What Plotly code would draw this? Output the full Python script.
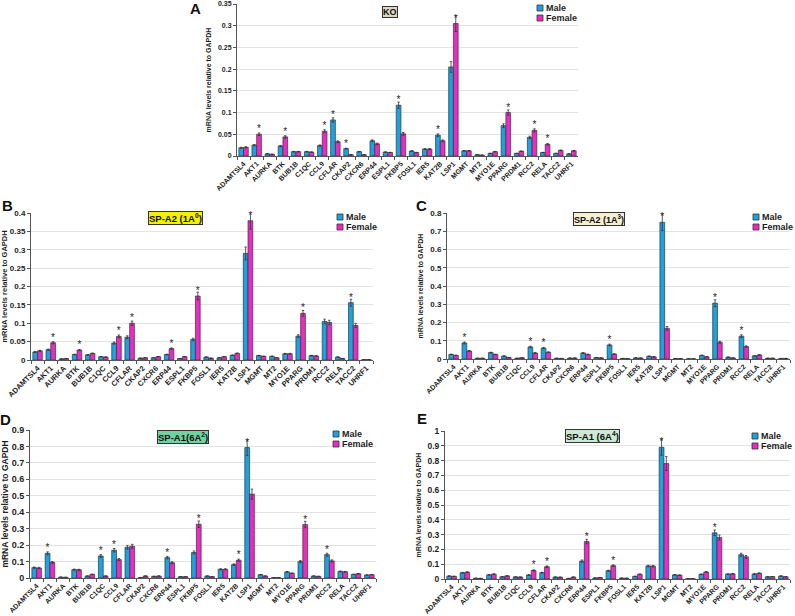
import plotly.graph_objects as go

genes = ["ADAMTSL4", "AKT1", "AURKA", "BTK", "BUB1B", "C1QC", "CCL9", "CFLAR", "CKAP2",
         "CXCR6", "ERP44", "ESPL1", "FKBP5", "FOSL1", "IER5", "KAT2B", "LSP1", "MGMT",
         "MT2", "MYO1E", "PPARG", "PRDM1", "RCC2", "RELA", "TACC2", "UHRF1"]

# Panel A: KO
ko_male = [0.019, 0.025, 0.005, 0.023, 0.010, 0.010, 0.024, 0.083, 0.017, 0.010, 0.035, 0.009, 0.117,
           0.0115, 0.016, 0.048, 0.205, 0.012, 0.003, 0.006, 0.070, 0.006, 0.043, 0.008, 0.006, 0.005]
ko_female = [0.020, 0.050, 0.004, 0.044, 0.010, 0.009, 0.057, 0.033, 0.003, 0.003, 0.028, 0.008, 0.051,
             0.008, 0.016, 0.035, 0.305, 0.012, 0.002, 0.010, 0.100, 0.011, 0.059, 0.027, 0.013, 0.012]
ko_sig_male = ["CFLAR", "CKAP2", "FKBP5", "KAT2B"]
ko_sig_female = ["AKT1", "BTK", "CCL9", "LSP1", "PPARG", "RCC2", "RELA"]

# Panel B: SP-A2 (1A0)
b_male = [0.022, 0.028, 0.003, 0.015, 0.014, 0.009, 0.046, 0.062, 0.005, 0.006, 0.015, 0.004, 0.056,
          0.008, 0.006, 0.013, 0.290, 0.012, 0.010, 0.017, 0.065, 0.012, 0.105, 0.008, 0.156, 0.001]
b_female = [0.025, 0.047, 0.004, 0.027, 0.018, 0.008, 0.064, 0.100, 0.006, 0.009, 0.031, 0.009, 0.174,
            0.005, 0.009, 0.018, 0.379, 0.010, 0.006, 0.017, 0.127, 0.011, 0.102, 0.004, 0.094, 0.001]
b_sig_male = ["TACC2"]
b_sig_female = ["AKT1", "BTK", "CCL9", "CFLAR", "ERP44", "FKBP5", "LSP1", "PPARG"]

# Panel C: SP-A2 (1A3)
c_male = [0.025, 0.088, 0.004, 0.035, 0.016, 0.004, 0.066, 0.060, 0.004, 0.005, 0.033, 0.008, 0.077,
          0.003, 0.006, 0.015, 0.749, 0.002, 0.001, 0.020, 0.306, 0.010, 0.125, 0.017, 0.004, 0.003]
c_female = [0.020, 0.044, 0.004, 0.025, 0.008, 0.007, 0.033, 0.037, 0.003, 0.005, 0.025, 0.006, 0.027,
            0.002, 0.005, 0.012, 0.168, 0.002, 0.001, 0.012, 0.092, 0.006, 0.068, 0.022, 0.004, 0.003]
c_sig_male = ["AKT1", "CCL9", "CFLAR", "FKBP5", "LSP1", "PPARG", "RCC2"]
c_sig_female = []

# Panel D: SP-A1 (6A2)
d_male = [0.063, 0.150, 0.005, 0.051, 0.012, 0.134, 0.169, 0.187, 0.003, 0.010, 0.124, 0.008, 0.155,
          0.012, 0.053, 0.081, 0.793, 0.020, 0.002, 0.037, 0.100, 0.012, 0.142, 0.040, 0.022, 0.018]
d_female = [0.061, 0.095, 0.004, 0.050, 0.022, 0.012, 0.112, 0.193, 0.012, 0.012, 0.093, 0.008, 0.327,
            0.008, 0.053, 0.108, 0.510, 0.012, 0.002, 0.029, 0.325, 0.010, 0.104, 0.038, 0.026, 0.020]
d_sig_male = ["AKT1", "C1QC", "CCL9", "ERP44", "LSP1", "RCC2"]
d_sig_female = ["FKBP5", "KAT2B", "PPARG"]

# Panel E: SP-A1 (6A4)
e_male = [0.020, 0.042, 0.005, 0.028, 0.015, 0.014, 0.027, 0.043, 0.013, 0.004, 0.121, 0.007, 0.056,
          0.006, 0.018, 0.088, 0.890, 0.028, 0.002, 0.032, 0.312, 0.033, 0.164, 0.034, 0.015, 0.020]
e_female = [0.018, 0.046, 0.004, 0.033, 0.021, 0.013, 0.058, 0.083, 0.012, 0.013, 0.253, 0.010, 0.090,
            0.005, 0.032, 0.087, 0.780, 0.026, 0.002, 0.047, 0.280, 0.035, 0.150, 0.039, 0.016, 0.015]
e_sig_male = ["LSP1", "PPARG"]
e_sig_female = ["CCL9", "CFLAR", "ERP44", "FKBP5"]

series_names = ["Male", "Female"]

W, H = 795, 616
MALE_C = "#1aa3df"
FEMALE_C = "#ec2bc3"
COLORS = [MALE_C, FEMALE_C]
FONT = "Liberation Sans, Arial, sans-serif"
INK = "#1e1e1e"

panels = [
    dict(m=ko_male, f=ko_female, sm=ko_sig_male, sf=ko_sig_female, xpx=(237, 578), ypx=(4, 156),
         ymax=0.35, dtick=0.05, xfs=7, yfs=7, tfs=7, leg=(537, 8, 9)),
    dict(m=b_male, f=b_female, sm=b_sig_male, sf=b_sig_female, xpx=(31, 373), ypx=(213, 360),
         ymax=0.4, dtick=0.05, xfs=7.5, yfs=8, tfs=7.5, leg=(337, 217, 9)),
    dict(m=c_male, f=c_female, sm=c_sig_male, sf=c_sig_female, xpx=(447, 790), ypx=(213, 359),
         ymax=0.8, dtick=0.1, xfs=7, yfs=8, tfs=7, leg=(753, 217, 9)),
    dict(m=d_male, f=d_female, sm=d_sig_male, sf=d_sig_female, xpx=(30, 376), ypx=(430, 578),
         ymax=0.9, dtick=0.1, xfs=7, yfs=9, tfs=8.5, leg=(333, 434, 9)),
    dict(m=e_male, f=e_female, sm=e_sig_male, sf=e_sig_female, xpx=(445, 790), ypx=(431, 579),
         ymax=1.0, dtick=0.1, xfs=7, yfs=8.5, tfs=7, leg=(752, 436, 9)),
]

fig = go.Figure()
layout = dict(
    width=W, height=H, margin=dict(l=0, r=0, t=0, b=0, autoexpand=False),
    paper_bgcolor="white", plot_bgcolor="white",
    barmode="group", bargap=0.28, bargroupgap=0.0,
    font=dict(family=FONT, color=INK),
    showlegend=False,
)
shapes = []
annotations = []

for i, p in enumerate(panels):
    k = "" if i == 0 else str(i + 1)
    xa, ya = "x" + k, "y" + k
    for name, vals, sig, col in zip(series_names, (p["m"], p["f"]), (p["sm"], p["sf"]), COLORS):
        fig.add_trace(go.Bar(
            x=genes, y=vals, name=name, xaxis=xa, yaxis=ya,
            marker=dict(color=col, line=dict(color="#333333", width=0.7)),
            error_y=dict(type="percent", value=6, thickness=0.8, width=1.2, color="#333333"),
            text=["*" if g in sig else "" for g in genes],
            textposition="outside", cliponaxis=False,
            textfont=dict(size=10, color=INK, family=FONT),
            showlegend=False,
        ))
    x0, x1 = p["xpx"]
    y0, y1 = p["ypx"]
    layout["xaxis" + k] = dict(
        domain=[x0 / W, x1 / W], anchor=ya, type="category", automargin=False,
        tickangle=-45, tickfont=dict(size=p["xfs"], weight="bold", family=FONT, color=INK),
        showline=True, linecolor="#555555", linewidth=1,
        ticks="outside", ticklen=3, tickcolor="#555555", tickson="boundaries",
        showgrid=False, fixedrange=True,
    )
    layout["yaxis" + k] = dict(
        domain=[1 - y1 / H, 1 - y0 / H], anchor=xa, automargin=False,
        range=[0, p["ymax"]], dtick=p["dtick"], tick0=0,
        tickfont=dict(size=p["yfs"], weight="bold", family=FONT, color=INK),
        showline=True, linecolor="#555555", linewidth=1,
        ticks="outside", ticklen=3, tickcolor="#555555",
        showgrid=True, gridcolor="#e3e3e3", gridwidth=1, zeroline=False,
        title=dict(text="mRNA levels relative to GAPDH", standoff=5,
                   font=dict(size=p["tfs"], weight="bold", family=FONT, color=INK)),
    )
    # legend (symbol squares + labels)
    lx, ly, lfs = p["leg"]
    for j, (name, col) in enumerate(zip(series_names, COLORS)):
        cy = ly + 10 * j
        shapes.append(dict(type="rect", xref="paper", yref="paper",
                           x0=lx / W, x1=(lx + 6) / W, y0=1 - (cy + 3) / H, y1=1 - (cy - 3) / H,
                           fillcolor=col, line=dict(color="#333333", width=0.8)))
        annotations.append(dict(x=(lx + 7) / W, y=1 - cy / H, xref="paper", yref="paper",
                                text="<b>%s</b>" % name, showarrow=False,
                                font=dict(size=lfs, family=FONT, color=INK),
                                xanchor="left", yanchor="middle"))

# Panel letters
for txt, px, py in (("A", 195, 8), ("B", 7, 206), ("C", 421, 206), ("D", 5, 419), ("E", 422, 418)):
    annotations.append(dict(x=px / W, y=1 - py / H, xref="paper", yref="paper", text="<b>%s</b>" % txt,
                            showarrow=False, font=dict(size=15, family=FONT, color="#111111"),
                            xanchor="center", yanchor="middle"))

# Panel title boxes
boxes = [
    ("KO", 390, 12, "#ddd6c0", 9),
    ("SP-A2 (1A<sup>0</sup>)", 175, 218, "#f4f000", 9.5),
    ("SP-A2 (1A<sup>3</sup>)", 599, 219, "#f6f0d2", 9),
    ("SP-A1(6A<sup>2</sup>)", 183, 437, "#6fd3a0", 9.5),
    ("SP-A1 (6A<sup>4</sup>)", 592, 436, "#cbe9d5", 9.5),
]
for txt, px, py, bg, fs in boxes:
    annotations.append(dict(x=px / W, y=1 - py / H, xref="paper", yref="paper", text="<b>%s</b>" % txt,
                            showarrow=False, font=dict(size=fs, family=FONT, color="#111111"),
                            bgcolor=bg, bordercolor="#333333", borderwidth=1, borderpad=0,
                            xanchor="center", yanchor="middle"))

layout["shapes"] = shapes
layout["annotations"] = annotations
fig.update_layout(**layout)

# remove the default page margin so the figure sits at the window's top-left corner
fig.write_html("out.html", config={"displayModeBar": False},
               post_script="document.body.style.margin='0';")
